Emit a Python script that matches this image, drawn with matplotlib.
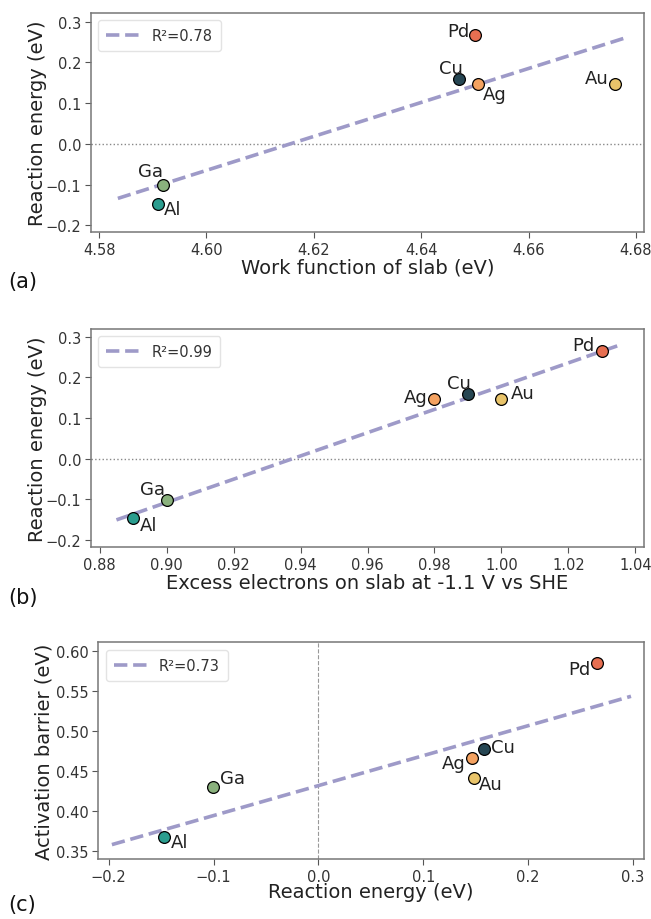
import numpy as np
import matplotlib
matplotlib.use("Agg")
import matplotlib.pyplot as plt

plt.rcParams['font.family'] = ['DejaVu Sans']

# metals and their measured values
metals = ["Al", "Ga", "Ag", "Cu", "Au", "Pd"]
work_function = [4.591, 4.592, 4.6505, 4.647, 4.676, 4.650]
excess_electrons = [0.89, 0.90, 0.98, 0.99, 1.00, 1.03]
reaction_energy = [-0.147, -0.101, 0.146, 0.158, 0.148, 0.266]
activation_barrier = [0.368, 0.430, 0.466, 0.478, 0.441, 0.585]
r2_labels = ["R\u00b2=0.78", "R\u00b2=0.99", "R\u00b2=0.73"]

colors = {"Al": "#2a9d8f", "Ga": "#8ab17d", "Ag": "#f4a261",
          "Cu": "#264653", "Au": "#e9c46a", "Pd": "#e76f51"}
fit_color = "#9e9ac8"

# label offsets (points) and alignment for each metal, per panel
offsets_a = {"Pd": (-4, 3, "right"), "Cu": (3, 8, "right"), "Ag": (4, -7, "left"),
             "Au": (-4, 4, "right"), "Ga": (0, 10, "right"), "Al": (4, -4, "left")}
offsets_b = {"Pd": (-5, 4, "right"), "Cu": (2, 8, "right"), "Ag": (-5, 2, "right"),
             "Au": (7, 4, "left"), "Ga": (-1, 8, "right"), "Al": (5, -5, "left")}
offsets_c = {"Pd": (-5, -4, "right"), "Cu": (5, 1, "left"), "Ag": (-4, -3, "right"),
             "Au": (4, -4, "left"), "Ga": (5, 7, "left"), "Al": (5, -4, "left")}

fig = plt.figure(figsize=(6.51, 9.2), dpi=100)
ax_a = fig.add_axes([0.1398, 0.7464, 0.8495, 0.2384])
ax_b = fig.add_axes([0.1398, 0.4040, 0.8495, 0.2373])
ax_c = fig.add_axes([0.1511, 0.0652, 0.8380, 0.2355])


def panel(ax, x, y, fit_range, label, offsets, xlabel, ylabel, ylab_x, xlab_y):
    x = np.array(x)
    y = np.array(y)
    k, b = np.polyfit(x, y, 1)
    xs = np.linspace(fit_range[0], fit_range[1], 50)
    ax.plot(xs, k * xs + b, ls="--", lw=2.6, color=fit_color, label=label, zorder=2)
    for m, xi, yi in zip(metals, x, y):
        ax.scatter(xi, yi, s=72, color=colors[m], edgecolor="black", lw=0.9, zorder=3)
        dx, dy, ha = offsets[m]
        ax.annotate(m, (xi, yi), xytext=(dx, dy), textcoords="offset points",
                    ha=ha, va="center", fontsize=13, color="#222222")
    ax.set_xlabel(xlabel, fontsize=14, color="#222222", va="center")
    ax.set_ylabel(ylabel, fontsize=14, color="#222222", va="center")
    ax.xaxis.set_label_coords(0.5, xlab_y)
    ax.yaxis.set_label_coords(ylab_x, 0.5)
    ax.tick_params(labelsize=10.5, colors="#333333", length=4, width=0.8,
                   color="#555555", pad=3)
    for s in ax.spines.values():
        s.set_color("#777777")
        s.set_linewidth(1.1)
    leg = ax.legend(loc="upper left", fontsize=10.5, handlelength=2.3,
                    frameon=True, fancybox=True, borderpad=0.55)
    leg.get_frame().set_edgecolor("#dddddd")
    for t in leg.get_texts():
        t.set_color("#333333")


panel(ax_a, work_function, reaction_energy, (4.5835, 4.678), r2_labels[0], offsets_a,
      "Work function of slab (eV)", "Reaction energy (eV)", -0.0976, -0.158)
ax_a.axhline(0, color="#888888", ls=":", lw=1.0, zorder=1)
ax_a.set_xlim(4.5785, 4.6815)
ax_a.set_ylim(-0.217, 0.321)
ax_a.set_xticks([4.58, 4.60, 4.62, 4.64, 4.66, 4.68])
ax_a.set_yticks([-0.2, -0.1, 0.0, 0.1, 0.2, 0.3])

panel(ax_b, excess_electrons, reaction_energy, (0.885, 1.035), r2_labels[1], offsets_b,
      "Excess electrons on slab at -1.1 V vs SHE", "Reaction energy (eV)", -0.0976, -0.159)
ax_b.axhline(0, color="#888888", ls=":", lw=1.0, zorder=1)
ax_b.set_xlim(0.8774, 1.0426)
ax_b.set_ylim(-0.218, 0.319)
ax_b.set_xticks(np.round(np.arange(0.88, 1.041, 0.02), 2))
ax_b.set_yticks([-0.2, -0.1, 0.0, 0.1, 0.2, 0.3])

panel(ax_c, reaction_energy, activation_barrier, (-0.197, 0.298), r2_labels[2], offsets_c,
      "Reaction energy (eV)", "Activation barrier (eV)", -0.1004, -0.152)
ax_c.axvline(0, color="#999999", ls="--", lw=0.8, zorder=1)
ax_c.set_xlim(-0.2099, 0.3103)
ax_c.set_ylim(0.3404, 0.6108)
ax_c.set_xticks([-0.2, -0.1, 0.0, 0.1, 0.2, 0.3])
ax_c.set_yticks([0.35, 0.40, 0.45, 0.50, 0.55, 0.60])
ax_c.set_yticklabels(["0.35", "0.40", "0.45", "0.50", "0.55", "0.60"])

for lab, ypos in [("(a)", 1 - 282 / 920), ("(b)", 1 - 598 / 920), ("(c)", 1 - 905 / 920)]:
    fig.text(0.012, ypos, lab, fontsize=15, va="center", ha="left", color="#111111")

fig.savefig("out.png", dpi=100, facecolor="white")
